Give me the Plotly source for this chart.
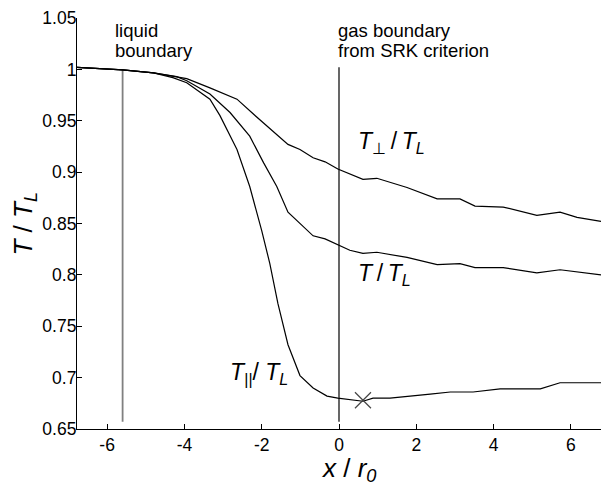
import plotly.graph_objects as go

# ---- data ----
x_perp = [-6.78, -5.6, -4.8, -4.2, -3.94, -3.34, -2.64, -2.23, -1.61, -1.32, -1.01, -0.67, -0.36, -0.03,
          0.62, 0.98, 1.76, 2.54, 3.13, 3.52, 4.25, 5.12, 5.72, 6.16, 6.78]
t_perp = [1.002, 0.9995, 0.9966, 0.993, 0.991, 0.982, 0.971, 0.957, 0.937, 0.927, 0.922, 0.914, 0.910, 0.903,
          0.893, 0.894, 0.885, 0.874, 0.874, 0.867, 0.866, 0.858, 0.861, 0.856, 0.852]

x_tot = [-6.78, -5.6, -4.8, -4.2, -3.94, -3.34, -2.82, -2.31, -1.95, -1.61, -1.32, -1.0, -0.67, -0.36, -0.03,
         0.28, 0.62, 0.98, 1.76, 2.54, 3.13, 3.52, 4.25, 5.12, 5.72, 6.16, 6.78]
t_tot = [1.002, 0.9995, 0.9966, 0.993, 0.989, 0.976, 0.958, 0.935, 0.909, 0.886, 0.861, 0.850, 0.838, 0.835, 0.829,
         0.824, 0.821, 0.822, 0.817, 0.810, 0.811, 0.807, 0.807, 0.802, 0.805, 0.803, 0.800]

x_par = [-6.78, -5.6, -4.8, -4.3, -3.94, -3.34, -3.08, -2.64, -2.31, -2.0, -1.79, -1.58, -1.32, -1.01, -0.67,
         -0.31, -0.03, 0.36, 0.62, 0.88, 1.32, 2.36, 2.88, 3.47, 4.17, 5.21, 5.72, 6.06, 6.78]
t_par = [1.002, 0.9995, 0.9966, 0.992, 0.987, 0.971, 0.955, 0.922, 0.886, 0.843, 0.811, 0.772, 0.732, 0.702, 0.690,
         0.682, 0.680, 0.678, 0.677, 0.680, 0.680, 0.684, 0.686, 0.686, 0.689, 0.689, 0.695, 0.695, 0.695]

liquid_x = [-5.6, -5.6]
liquid_y = [0.657, 1.0]
gas_x = [0.0, 0.0]
gas_y = [0.657, 1.002]

cross_x = [0.62]
cross_y = [0.678]

x_ticks = [-6, -4, -2, 0, 2, 4, 6]
y_ticks = [0.65, 0.7, 0.75, 0.8, 0.85, 0.9, 0.95, 1, 1.05]
y_ticklabels = ["0.65", "0.7", "0.75", "0.8", "0.85", "0.9", "0.95", "1", "1.05"]

FONT = "Liberation Sans, Arial, sans-serif"
TS = "\u2009"  # thin space

fig = go.Figure()
line = dict(color="black", width=1.2)
fig.add_trace(go.Scatter(x=liquid_x, y=liquid_y, mode="lines", line=dict(color="#808080", width=1.8)))
fig.add_trace(go.Scatter(x=gas_x, y=gas_y, mode="lines", line=dict(color="black", width=1.2)))
fig.add_trace(go.Scatter(x=x_perp, y=t_perp, mode="lines", line=line))
fig.add_trace(go.Scatter(x=x_tot, y=t_tot, mode="lines", line=line))
fig.add_trace(go.Scatter(x=x_par, y=t_par, mode="lines", line=line))
fig.add_trace(go.Scatter(x=cross_x, y=cross_y, mode="markers",
                         marker=dict(symbol="x-thin-open", size=16, color="#444444",
                                     line=dict(color="#444444", width=1.2))))

anns = [
    dict(x=-5.84, y=1.0378, text="liquid", xanchor="left", yanchor="middle"),
    dict(x=-5.84, y=1.0188, text="boundary", xanchor="left", yanchor="middle"),
    dict(x=-0.08, y=1.0378, text="gas boundary", xanchor="left", yanchor="middle"),
    dict(x=-0.08, y=1.0188, text="from SRK criterion", xanchor="left", yanchor="middle"),
]
for a in anns:
    fig.add_annotation(xref="x", yref="y", showarrow=False, font=dict(family=FONT, size=18.5, color="black"), **a)

lab_font = dict(family=FONT, size=23, color="black")
fig.add_annotation(x=0.45, y=0.929, xref="x", yref="y", showarrow=False, xanchor="left", yanchor="middle",
                   text="<i>T</i><sub>⊥</sub>" + TS + "/" + TS + "<i>T</i><sub><i>L</i></sub>", font=lab_font)
fig.add_annotation(x=0.43, y=0.800, xref="x", yref="y", showarrow=False, xanchor="left", yanchor="middle",
                   text="<i>T</i>" + TS + "/" + TS + "<i>T</i><sub><i>L</i></sub>", font=lab_font)
fig.add_annotation(x=-2.86, y=0.704, xref="x", yref="y", showarrow=False, xanchor="left", yanchor="middle",
                   text="<i>T</i><sub><i>||</i></sub>/ <i>T</i><sub><i>L</i></sub>", font=lab_font)

# axis titles
fig.add_annotation(x=0.519, y=-0.098, xref="paper", yref="paper", showarrow=False, xanchor="center", yanchor="middle",
                   text="<i>x</i> / <i>r</i><sub><i>0</i></sub>", font=dict(family=FONT, size=26, color="black"))
fig.add_annotation(x=-0.101, y=0.50, xref="paper", yref="paper", showarrow=False, xanchor="center", yanchor="middle",
                   textangle=-90, text="<i>T</i> / <i>T</i><sub><i>L</i></sub>", font=dict(family=FONT, size=26, color="black"))

axis_common = dict(showgrid=False, zeroline=False, showline=True, linecolor="black", linewidth=1.2,
                   ticks="inside", ticklen=5, tickcolor="black", tickwidth=1,
                   tickfont=dict(family=FONT, size=17.5, color="black"))
fig.update_xaxes(range=[-6.78, 6.78], tickmode="array", tickvals=x_ticks, ticktext=[str(t) for t in x_ticks],
                 **axis_common)
fig.update_yaxes(range=[0.65, 1.05], tickmode="array", tickvals=y_ticks, ticktext=y_ticklabels,
                 ticklabelstandoff=-4, **axis_common)

fig.update_layout(width=601, height=486, margin=dict(l=77, r=0, t=18, b=57), showlegend=False,
                  plot_bgcolor="white", paper_bgcolor="white")
fig.write_html("out.html")
